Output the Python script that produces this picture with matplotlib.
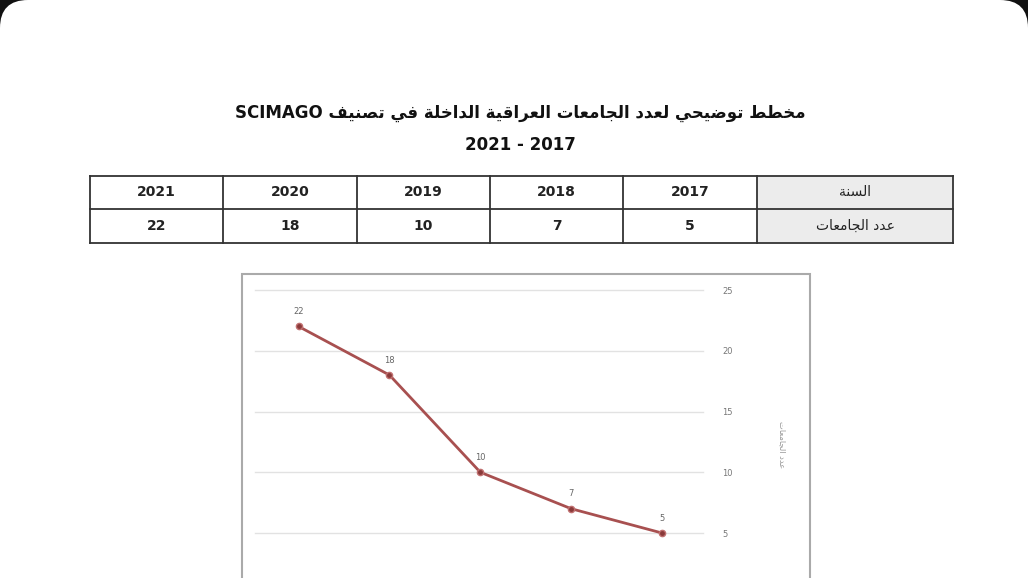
import matplotlib
matplotlib.use("Agg")
import matplotlib.pyplot as plt
from matplotlib.patches import Rectangle, FancyBboxPatch

years = ["2017", "2018", "2019", "2020", "2021"]
counts = [5, 7, 10, 18, 22]
title1 = "مخطط توضيحي لعدد الجامعات العراقية الداخلة في تصنيف SCIMAGO"
title2 = "2021 - 2017"
row1_label = "السنة"
row2_label = "عدد الجامعات"
y_label = "عدد الجامعات"
y_ticks = [5, 10, 15, 20, 25]

# minimal Arabic shaping: (isolated, final, initial, medial)
FORMS = {
    'ا': (0xFE8D, 0xFE8E, None, None), 'ت': (0xFE95, 0xFE96, 0xFE97, 0xFE98),
    'ة': (0xFE93, 0xFE94, None, None), 'ج': (0xFE9D, 0xFE9E, 0xFE9F, 0xFEA0),
    'ح': (0xFEA1, 0xFEA2, 0xFEA3, 0xFEA4), 'خ': (0xFEA5, 0xFEA6, 0xFEA7, 0xFEA8),
    'د': (0xFEA9, 0xFEAA, None, None), 'ر': (0xFEAD, 0xFEAE, None, None),
    'س': (0xFEB1, 0xFEB2, 0xFEB3, 0xFEB4), 'ص': (0xFEB9, 0xFEBA, 0xFEBB, 0xFEBC),
    'ض': (0xFEBD, 0xFEBE, 0xFEBF, 0xFEC0), 'ط': (0xFEC1, 0xFEC2, 0xFEC3, 0xFEC4),
    'ع': (0xFEC9, 0xFECA, 0xFECB, 0xFECC), 'ف': (0xFED1, 0xFED2, 0xFED3, 0xFED4),
    'ق': (0xFED5, 0xFED6, 0xFED7, 0xFED8), 'ل': (0xFEDD, 0xFEDE, 0xFEDF, 0xFEE0),
    'م': (0xFEE1, 0xFEE2, 0xFEE3, 0xFEE4), 'ن': (0xFEE5, 0xFEE6, 0xFEE7, 0xFEE8),
    'و': (0xFEED, 0xFEEE, None, None), 'ي': (0xFEF1, 0xFEF2, 0xFEF3, 0xFEF4),
}

def shape_word(w):
    out = []
    n = len(w)
    for i, c in enumerate(w):
        f = FORMS.get(c)
        if f is None:
            out.append(c); continue
        prev_joins = i > 0 and w[i-1] in FORMS and FORMS[w[i-1]][2] is not None
        next_joins = i < n-1 and w[i+1] in FORMS and f[2] is not None
        if prev_joins and next_joins:
            code = f[3]
        elif prev_joins:
            code = f[1]
        elif next_joins:
            code = f[2]
        else:
            code = f[0]
        out.append(chr(code))
    return "".join(reversed(out))

def ar(text):
    words = text.split(" ")
    res = []
    for w in reversed(words):
        if any(c in FORMS for c in w):
            res.append(shape_word(w))
        else:
            res.append(w)
    return " ".join(res)

W, H = 1028, 578
fig = plt.figure(figsize=(W/100, H/100), dpi=100, facecolor="#111111")
bg = fig.add_axes([0, 0, 1, 1])
bg.set_xlim(0, W); bg.set_ylim(H, 0); bg.axis("off")
bg.add_patch(FancyBboxPatch((0, 0), W, H + 40, boxstyle="round,pad=0,rounding_size=28",
                            fc="white", ec="none"))
font = "DejaVu Sans"
bg.text(520, 113, ar(title1), ha="center", va="center", fontsize=12, fontweight="bold",
        family=font, color="#111111")
bg.text(520, 145, title2, ha="center", va="center", fontsize=12, fontweight="bold",
        family=font, color="#111111")

# table
xs = [90, 223, 357, 490, 623, 757, 953]
y0, ym, y1 = 176, 209, 243
bg.add_patch(Rectangle((757, y0), 196, y1 - y0, fc="#ececec", ec="none"))
for x in xs:
    bg.plot([x, x], [y0, y1], color="#333333", lw=1.3)
for y in (y0, ym, y1):
    bg.plot([90, 953], [y, y], color="#333333", lw=1.3)
order = list(reversed(range(len(years))))
for col, idx in enumerate(order):
    cx = (xs[col] + xs[col+1]) / 2
    bg.text(cx, (y0+ym)/2, years[idx], ha="center", va="center", fontsize=10,
            fontweight="bold", family=font, color="#222222")
    bg.text(cx, (ym+y1)/2, str(counts[idx]), ha="center", va="center", fontsize=10,
            fontweight="bold", family=font, color="#222222")
bg.text(855, (y0+ym)/2, ar(row1_label), ha="center", va="center", fontsize=10,
        family=font, color="#222222")
bg.text(855, (ym+y1)/2, ar(row2_label), ha="center", va="center", fontsize=10,
        family=font, color="#222222")

# chart frame
bg.add_patch(Rectangle((242, 274), 568, 330, fc="white", ec="#aaaaaa", lw=1.5))
bg.text(782, 445, ar(y_label), rotation=270, ha="center", va="center", fontsize=6,
        family=font, color="#999999")

ax = fig.add_axes([255/W, 0, (703-255)/W, (H-290)/H])
ax.set_facecolor("none")
xpos = [len(years) - 1 - i for i in range(len(years))]
ax.plot(xpos, counts, color="#a85050", lw=2, marker="o", ms=4.5,
        markerfacecolor="#8a3a3a", markeredgecolor="#c07070")
for x, v in zip(xpos, counts):
    ax.annotate(str(v), (x, v), xytext=(0, 9), textcoords="offset points",
                ha="center", fontsize=6, color="#666666")
ax.set_xlim(-0.48, 4.45)
ax.set_ylim(1.3, 25)
ax.yaxis.tick_right()
ax.set_yticks(y_ticks)
ax.set_yticklabels([str(t) for t in y_ticks], fontsize=6, color="#777777")
ax.tick_params(axis="y", length=0, pad=14)
ax.set_xticks([])
for t in y_ticks:
    ax.axhline(t, color="#e2e2e2", lw=1, clip_on=False, zorder=0)
for s in ax.spines.values():
    s.set_visible(False)

fig.savefig("out.png", dpi=100, facecolor=fig.get_facecolor())
